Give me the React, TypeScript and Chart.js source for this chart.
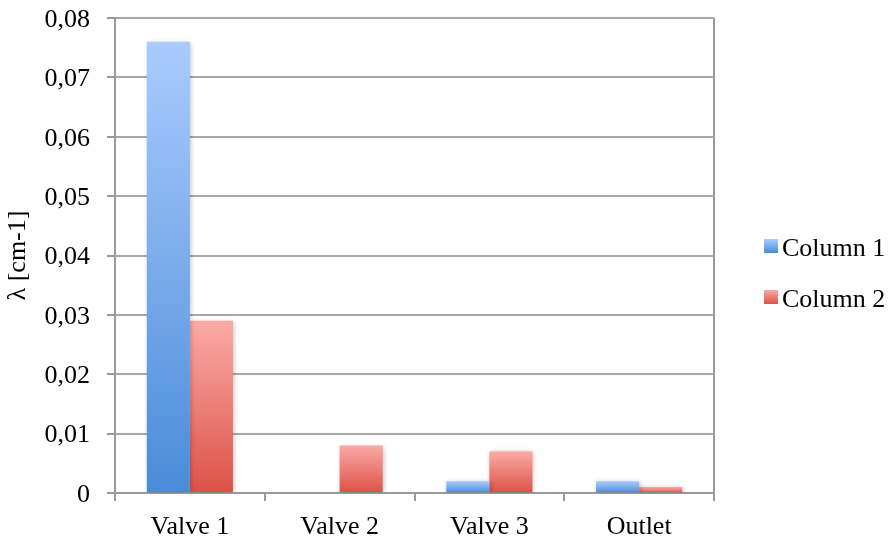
import React, { useEffect, useRef } from "react";
import { Chart, registerables } from "chart.js";

Chart.register(...registerables);

const categories = ["Valve 1", "Valve 2", "Valve 3", "Outlet"];
const column1 = [0.076, 0, 0.002, 0.002];
const column2 = [0.029, 0.008, 0.007, 0.001];
const seriesLabels = ["Column 1", "Column 2"];
const yTitle = "λ [cm-1]";

const BLUE_LIGHT = "#aacbfe";
const BLUE_DARK = "#4a8cd8";
const RED_LIGHT = "#fbaaa7";
const RED_DARK = "#dc5247";
const FONT = "'Liberation Serif', 'Times New Roman', serif";

const gradientFill = (light: string, dark: string) => (ctx: any) => {
  const chart = ctx.chart;
  const yScale = chart.scales?.y;
  if (!chart.chartArea || !yScale || ctx.type !== "data") return dark;
  const top = yScale.getPixelForValue(ctx.raw);
  const base = yScale.getPixelForValue(0);
  if (base - top < 1) return light;
  const g = chart.ctx.createLinearGradient(0, top, 0, base);
  g.addColorStop(0, light);
  g.addColorStop(1, dark);
  return g;
};

const shadowPlugin = {
  id: "barShadow",
  beforeDatasetsDraw(chart: any) {
    const c = chart.ctx;
    c.save();
    c.shadowColor = "rgba(0,0,0,0.28)";
    c.shadowBlur = 5;
    c.shadowOffsetX = 1;
    c.shadowOffsetY = 1;
  },
  afterDatasetsDraw(chart: any) {
    chart.ctx.restore();
  },
};

const legendPlugin = {
  id: "sideLegend",
  afterDraw(chart: any) {
    const c = chart.ctx;
    const colors = [
      [BLUE_LIGHT, BLUE_DARK],
      [RED_LIGHT, RED_DARK],
    ];
    const boxX = 764;
    const boxSize = 14;
    const startY = 246;
    const gap = 51;
    c.save();
    chart.data.datasets.forEach((ds: any, i: number) => {
      const cy = startY + i * gap;
      const g = c.createLinearGradient(0, cy - boxSize / 2, 0, cy + boxSize / 2);
      g.addColorStop(0, colors[i][0]);
      g.addColorStop(1, colors[i][1]);
      c.fillStyle = g;
      c.fillRect(boxX, cy - boxSize / 2, boxSize, boxSize);
      c.fillStyle = "#000";
      c.font = `26px ${FONT}`;
      c.textAlign = "left";
      c.textBaseline = "middle";
      c.fillText(ds.label, boxX + 18, cy + 3);
    });
    c.restore();
  },
};

export default function App() {
  const ref = useRef<HTMLCanvasElement | null>(null);

  useEffect(() => {
    if (!ref.current) return;
    const gridColor = "#a8a8a8";
    const axisColor = "#9a9a9a";
    const chart = new Chart(ref.current, {
      type: "bar",
      data: {
        labels: categories,
        datasets: [
          {
            label: seriesLabels[0],
            data: column1,
            backgroundColor: gradientFill(BLUE_LIGHT, BLUE_DARK),
            borderWidth: 0,
            categoryPercentage: 0.575,
            barPercentage: 1,
          },
          {
            label: seriesLabels[1],
            data: column2,
            backgroundColor: gradientFill(RED_LIGHT, RED_DARK),
            borderWidth: 0,
            categoryPercentage: 0.575,
            barPercentage: 1,
          },
        ],
      },
      options: {
        responsive: false,
        animation: false,
        devicePixelRatio: 1,
        layout: { padding: { top: 0, right: 176, left: 0, bottom: 0 } },
        plugins: {
          legend: { display: false },
          tooltip: { enabled: false },
        },
        scales: {
          x: {
            offset: true,
            grid: {
              offset: true,
              drawOnChartArea: true,
              drawTicks: true,
              tickLength: 8,
              lineWidth: 2,
              color: (ctx: any) => (ctx.type === "scale" ? axisColor : "rgba(0,0,0,0)"),
              tickColor: axisColor,
              tickWidth: 2,
            },
            border: { display: true, color: axisColor, width: 2 },
            ticks: {
              color: "#000",
              font: { family: FONT, size: 26 },
              padding: 11,
              maxRotation: 0,
            },
            afterFit: (scale: any) => {
              scale.height = 47;
            },
          },
          y: {
            min: 0,
            max: 0.08,
            grid: {
              color: gridColor,
              lineWidth: 2,
              tickLength: 8,
              tickColor: axisColor,
              tickWidth: 2,
            },
            border: { display: true, color: axisColor, width: 2 },
            ticks: {
              stepSize: 0.01,
              color: "#000",
              font: { family: FONT, size: 26 },
              padding: 17,
              labelOffset: 2,
              callback: (v: any) => {
                const n = Math.round(Number(v) * 100) / 100;
                return n === 0 ? "0" : n.toFixed(2).replace(".", ",");
              },
            },
            title: {
              display: true,
              text: yTitle,
              color: "#000",
              font: { family: FONT, size: 26 },
              padding: { top: 3, bottom: 0 },
            },
            afterFit: (scale: any) => {
              scale.width = 115;
              scale.paddingTop = 18;
              scale.paddingBottom = 16;
            },
          },
        },
      },
      plugins: [shadowPlugin, legendPlugin],
    });
    return () => chart.destroy();
  }, []);

  return (
    <div style={{ position: "absolute", left: 0, top: 0, width: 890, height: 540, background: "#fff" }}>
      <canvas ref={ref} width={890} height={540} style={{ width: 890, height: 540, display: "block" }} />
    </div>
  );
}
